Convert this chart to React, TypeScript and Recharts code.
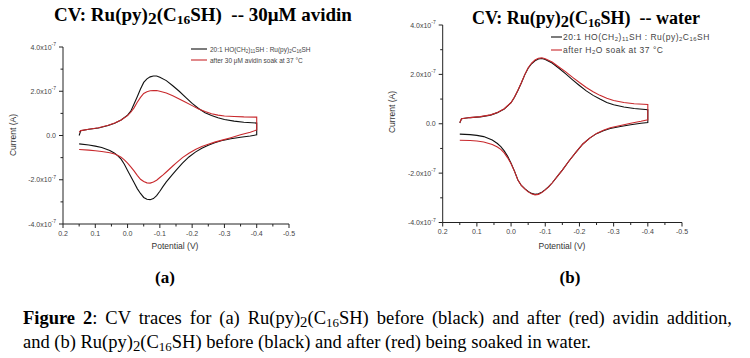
import React from 'react';
import { LineChart, Line, XAxis, YAxis } from 'recharts';

// Potentials (V) of the forward (upper) and reverse (lower) branch of each scan
const UP = [0.15, 0.145, 0.12, 0.09, 0.06, 0.04, 0.02, 0.0, -0.01, -0.02, -0.03, -0.04, -0.05, -0.06, -0.07, -0.08, -0.09, -0.10, -0.12, -0.14, -0.16, -0.18, -0.20, -0.22, -0.24, -0.26, -0.28, -0.30, -0.33, -0.36, -0.40];
const DOWN = [-0.40, -0.38, -0.35, -0.32, -0.29, -0.27, -0.25, -0.23, -0.21, -0.19, -0.17, -0.15, -0.14, -0.12, -0.11, -0.10, -0.09, -0.08, -0.07, -0.06, -0.05, -0.04, -0.03, -0.02, -0.01, 0.0, 0.01, 0.02, 0.03, 0.04, 0.055, 0.08, 0.10, 0.12, 0.15];

// Currents in units of 1e-7 A
// Panel (a): before (black) / after 30 uM avidin (red)
const A_BLACK_UP = [0.0, 0.22, 0.28, 0.34, 0.45, 0.55, 0.7, 0.92, 1.1, 1.42, 1.75, 2.1, 2.4, 2.56, 2.65, 2.69, 2.69, 2.63, 2.48, 2.25, 2.0, 1.72, 1.45, 1.22, 1.03, 0.9, 0.8, 0.72, 0.65, 0.6, 0.56];
const A_BLACK_DOWN = [0.03, -0.02, -0.08, -0.15, -0.24, -0.33, -0.44, -0.58, -0.75, -0.97, -1.25, -1.58, -1.75, -2.1, -2.3, -2.52, -2.72, -2.85, -2.9, -2.88, -2.8, -2.62, -2.4, -2.12, -1.85, -1.58, -1.3, -1.07, -0.92, -0.8, -0.68, -0.54, -0.48, -0.43, -0.38];
const A_RED_UP = [0.15, 0.22, 0.28, 0.35, 0.46, 0.56, 0.7, 0.9, 1.05, 1.25, 1.5, 1.72, 1.9, 1.98, 2.02, 2.03, 2.03, 2.0, 1.92, 1.8, 1.65, 1.5, 1.35, 1.2, 1.08, 0.98, 0.92, 0.88, 0.86, 0.84, 0.83];
const A_RED_DOWN = [0.25, 0.15, 0.03, -0.1, -0.22, -0.3, -0.4, -0.5, -0.63, -0.8, -1.0, -1.25, -1.38, -1.65, -1.78, -1.9, -2.02, -2.1, -2.15, -2.14, -2.08, -1.98, -1.8, -1.6, -1.42, -1.25, -1.1, -0.98, -0.9, -0.84, -0.78, -0.72, -0.69, -0.66, -0.63];

// Panel (b): before (black) / after water soak (red)
const B_BLACK_UP = [0.03, 0.2, 0.25, 0.28, 0.35, 0.45, 0.6, 0.85, 1.07, 1.35, 1.65, 1.98, 2.25, 2.43, 2.55, 2.62, 2.64, 2.6, 2.46, 2.25, 2.02, 1.78, 1.55, 1.33, 1.15, 1.0, 0.86, 0.77, 0.68, 0.62, 0.57];
const B_BLACK_DOWN = [0.05, 0.02, -0.04, -0.11, -0.19, -0.28, -0.4, -0.58, -0.82, -1.15, -1.5, -1.88, -2.05, -2.4, -2.55, -2.67, -2.77, -2.84, -2.86, -2.82, -2.74, -2.63, -2.5, -2.28, -1.92, -1.6, -1.32, -1.1, -0.93, -0.8, -0.66, -0.52, -0.47, -0.44, -0.42];
const B_RED_UP = [0.05, 0.2, 0.25, 0.29, 0.36, 0.46, 0.61, 0.86, 1.08, 1.36, 1.66, 1.99, 2.27, 2.46, 2.58, 2.65, 2.67, 2.63, 2.5, 2.3, 2.1, 1.88, 1.67, 1.47, 1.3, 1.15, 1.03, 0.94, 0.86, 0.81, 0.78];
const B_RED_DOWN = [0.16, 0.1, 0.02, -0.07, -0.16, -0.26, -0.39, -0.58, -0.82, -1.15, -1.5, -1.88, -2.05, -2.4, -2.56, -2.68, -2.79, -2.86, -2.88, -2.84, -2.76, -2.64, -2.5, -2.28, -1.93, -1.62, -1.38, -1.18, -1.04, -0.94, -0.84, -0.74, -0.7, -0.68, -0.67];

const X_TICKS = [0.2, 0.15, 0.1, 0.05, 0.0, -0.05, -0.1, -0.15, -0.2, -0.25, -0.3, -0.35, -0.4, -0.45, -0.5];
const Y_TICKS = [-4, -3, -2, -1, 0, 1, 2, 3, 4];

const LEGEND_BEFORE = ['20:1 HO(CH', '2', ')', '11', 'SH : Ru(py)', '2', 'C', '16', 'SH'];
const LEGEND_AFTER_A = 'after 30 \u03bcM avidin soak at 37 \u00b0C';
const LEGEND_AFTER_B = ['after H', '2', 'O soak at 37 \u00b0C'];

const BLACK = '#111111';
const RED = '#c8282c';
const SERIF = '"Liberation Serif", "Times New Roman", serif';
const SANS = '"Liberation Sans", Arial, sans-serif';

const loop = (up: number[], down: number[]) => [
  ...UP.map((p, i) => ({ p, c: up[i] })),
  ...DOWN.map((p, i) => ({ p, c: down[i] })),
];

const isMajor = (v: number) => Math.abs(v * 10 - Math.round(v * 10)) < 1e-6;

const XTick = (props: any) => {
  const { x, y, payload } = props;
  const v = payload.value as number;
  const major = isMajor(v);
  return (
    <g>
      <line x1={x} x2={x} y1={y} y2={y + (major ? 4 : 2.5)} stroke="#222" strokeWidth={1} />
      {major && (
        <text x={x} y={y + 9} textAnchor="middle" dominantBaseline="central" fontSize={7} fill="#444" fontFamily={SANS}>
          {Math.abs(v) < 1e-9 ? '0.0' : v.toFixed(1)}
        </text>
      )}
    </g>
  );
};

const YTick = (props: any) => {
  const { x, y, payload } = props;
  const v = payload.value as number;
  const major = v % 2 === 0;
  return (
    <g>
      <line x1={x} x2={x - (major ? 4 : 2.5)} y1={y} y2={y} stroke="#222" strokeWidth={1} />
      {major && (
        <text x={x - 7} y={y} textAnchor="end" dominantBaseline="central" fontSize={7} fill="#444" fontFamily={SANS}>
          {v === 0 ? '0.0' : (
            <>
              {v.toFixed(1) + 'x10'}
              <tspan dy={-3} fontSize={5}>-7</tspan>
            </>
          )}
        </text>
      )}
    </g>
  );
};

const Panel = ({ black, red, width, height, margin }: any) => (
  <LineChart width={width} height={height} margin={margin}>
    <XAxis
      type="number"
      dataKey="p"
      domain={[-0.5, 0.2]}
      reversed
      ticks={X_TICKS}
      interval={0}
      height={20}
      tickSize={0}
      tickMargin={0}
      tick={<XTick />}
      axisLine={{ stroke: '#222', strokeWidth: 1 }}
      allowDataOverflow
    />
    <YAxis
      type="number"
      dataKey="c"
      domain={[-4, 4]}
      ticks={Y_TICKS}
      interval={0}
      width={40}
      tickSize={0}
      tickMargin={0}
      tick={<YTick />}
      axisLine={{ stroke: '#222', strokeWidth: 1 }}
      allowDataOverflow
    />
    <Line data={black} dataKey="c" type="linear" stroke={BLACK} strokeWidth={1.1} dot={false} isAnimationActive={false} />
    <Line data={red} dataKey="c" type="linear" stroke={RED} strokeWidth={1.1} dot={false} isAnimationActive={false} />
  </LineChart>
);

const Sub = ({ children, size = 0.7 }: any) => (
  <span style={{ fontSize: `${size}em`, position: 'relative', top: '0.2em' }}>{children}</span>
);

const subParts = (parts: string[], sz: number, dy: number) =>
  parts.map((s, i) =>
    i % 2 === 1 ? (
      <tspan key={i} fontSize={sz * 0.7} dy={dy}>{s}</tspan>
    ) : (
      <tspan key={i} fontSize={sz} dy={i === 0 ? 0 : -dy}>{s}</tspan>
    )
  );

export default function App() {
  const aBlack = loop(A_BLACK_UP, A_BLACK_DOWN);
  const aRed = loop(A_RED_UP, A_RED_DOWN);
  const bBlack = loop(B_BLACK_UP, B_BLACK_DOWN);
  const bRed = loop(B_RED_UP, B_RED_DOWN);

  return (
    <div style={{ position: 'absolute', left: 0, top: 0, width: 750, height: 358, background: '#fff', overflow: 'hidden' }}>
      <div style={{ position: 'absolute', left: 0, top: 0 }}>
        <Panel black={aBlack} red={aRed} width={300} height={250} margin={{ top: 47, left: 23, right: 11, bottom: 6 }} />
      </div>
      <div style={{ position: 'absolute', left: 375, top: 0 }}>
        <Panel black={bBlack} red={bRed} width={320} height={250} margin={{ top: 25, left: 27.7, right: 13, bottom: 7.5 }} />
      </div>

      <svg width={750} height={358} style={{ position: 'absolute', left: 0, top: 0, pointerEvents: 'none' }}>
        {/* Titles */}
        <text x={203} y={21} textAnchor="middle" fontFamily={SERIF} fontWeight="bold" fontSize={19} fill="#000" style={{ whiteSpace: 'pre' }}>
          <tspan>CV: Ru(py)</tspan>
          <tspan fontSize={17.5} dy={3}>2</tspan>
          <tspan dy={-3}>(C</tspan>
          <tspan fontSize={13.5} dy={3}>16</tspan>
          <tspan dy={-3}>{'SH)  -- 30\u03bcM avidin'}</tspan>
        </text>
        <text x={586} y={24} textAnchor="middle" fontFamily={SERIF} fontWeight="bold" fontSize={18} fill="#000" style={{ whiteSpace: 'pre' }}>
          <tspan>CV: Ru(py)</tspan>
          <tspan fontSize={16.5} dy={3}>2</tspan>
          <tspan dy={-3}>(C</tspan>
          <tspan fontSize={12.5} dy={3}>16</tspan>
          <tspan dy={-3}>{'SH)  -- water'}</tspan>
        </text>

        {/* Axis titles */}
        <text x={13} y={135} transform="rotate(-90 13 135)" textAnchor="middle" dominantBaseline="central" fontFamily={SANS} fontSize={8.5} fill="#333">Current (A)</text>
        <text x={175} y={246} textAnchor="middle" dominantBaseline="central" fontFamily={SANS} fontSize={8.5} fill="#333">Potential (V)</text>
        <text x={392} y={112} transform="rotate(-90 392 112)" textAnchor="middle" dominantBaseline="central" fontFamily={SANS} fontSize={8.5} fill="#333">Current (A)</text>
        <text x={562} y={246} textAnchor="middle" dominantBaseline="central" fontFamily={SANS} fontSize={8.5} fill="#333">Potential (V)</text>

        {/* Legend (a) */}
        <line x1={191} x2={207} y1={49} y2={49} stroke={BLACK} strokeWidth={1.1} />
        <text x={210} y={49} dominantBaseline="central" fontFamily={SANS} fontSize={6.5} fill="#444">{subParts(LEGEND_BEFORE, 6.5, 1.5)}</text>
        <line x1={191} x2={207} y1={60} y2={60} stroke={RED} strokeWidth={1.1} />
        <text x={210} y={60} dominantBaseline="central" fontFamily={SANS} fontSize={6.5} fill="#444">{LEGEND_AFTER_A}</text>

        {/* Legend (b) */}
        <line x1={551} x2={562} y1={37} y2={37} stroke={BLACK} strokeWidth={1.1} />
        <text x={563} y={37} dominantBaseline="central" fontFamily={SANS} fontSize={8.5} letterSpacing={0.5} fill="#444">{subParts(LEGEND_BEFORE, 8.5, 2)}</text>
        <line x1={551} x2={562} y1={50} y2={50} stroke={RED} strokeWidth={1.1} />
        <text x={563} y={50} dominantBaseline="central" fontFamily={SANS} fontSize={8.5} letterSpacing={0.5} fill="#444">{subParts(LEGEND_AFTER_B, 8.5, 2)}</text>

        {/* Panel labels */}
        <text x={165} y={283} textAnchor="middle" fontFamily={SERIF} fontWeight="bold" fontSize={17} fill="#000">(a)</text>
        <text x={570} y={283} textAnchor="middle" fontFamily={SERIF} fontWeight="bold" fontSize={17} fill="#000">(b)</text>
      </svg>

      {/* Caption */}
      <div style={{ position: 'absolute', left: 23, top: 307, width: 709, fontFamily: SERIF, fontSize: 18.5, lineHeight: '22px', color: '#000' }}>
        <div style={{ textAlign: 'justify', textAlignLast: 'justify', whiteSpace: 'nowrap' }}>
          <b>Figure 2</b>: CV traces for (a) Ru(py)<Sub size={0.8}>2</Sub>(C<Sub>16</Sub>SH) before (black) and after (red) avidin addition,
        </div>
        <div>
          and (b) Ru(py)<Sub size={0.8}>2</Sub>(C<Sub>16</Sub>SH) before (black) and after (red) being soaked in water.
        </div>
      </div>
    </div>
  );
}
